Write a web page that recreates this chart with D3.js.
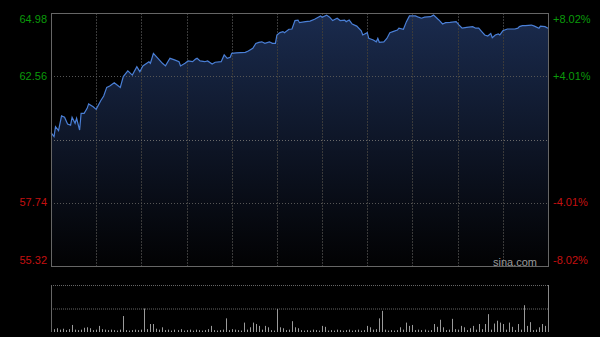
<!DOCTYPE html>
<html>
<head>
<meta charset="utf-8">
<script src="https://cdn.jsdelivr.net/npm/d3@7/dist/d3.min.js"></script>
<style>
  html, body { margin: 0; padding: 0; background: #000; }
  #chart { width: 600px; height: 337px; }
  text { font-family: Arial, "Liberation Sans", sans-serif; }
</style>
</head>
<body>
<div id="chart"></div>
<script>
// intraday price, minute offset from open -> price
const minutes = [0,2,3,5,7,9,11,13,14,16,17,19,20,22,24,25,28,30,33,35,37,39,42,46,48,51,54,57,59,61,
  65,66,68,71,74,76,79,82,85,86,89,91,94,96,97,99,102,104,107,109,113,115,117,119,120,123,129,131,134,136,
  138,140,142,145,147,149,150,152,154,155,158,160,162,164,165,169,172,175,179,180,183,185,187,190,192,195,196,198,200,203,
  206,207,210,211,214,216,217,218,221,223,225,227,230,231,234,236,238,242,244,246,248,252,254,257,258,260,262,265,269,271,
  273,276,280,282,284,286,288,290,292,293,295,297,298,300,303,308,310,311,313,315,319,321,324,325,328,330];
const prices = [60.41,60.26,60.64,60.49,61.05,61.00,60.74,60.70,61.00,60.77,60.96,60.51,61.15,61.15,61.34,61.51,61.40,61.30,61.63,61.81,62.14,62.19,62.32,62.14,62.55,62.77,62.61,62.93,62.74,62.96,
  63.12,63.06,63.44,63.25,63.06,62.96,63.25,63.19,63.12,62.96,63.06,63.15,63.12,63.22,63.25,63.15,63.12,63.15,63.03,63.10,63.12,63.38,63.25,63.29,63.44,63.46,63.48,63.53,63.63,63.82,
  63.86,63.88,63.82,63.88,63.82,63.82,64.14,64.23,64.27,64.23,64.36,64.37,64.69,64.71,64.61,64.65,64.67,64.74,64.87,64.82,64.90,64.82,64.69,64.78,64.69,64.71,64.65,64.71,64.56,64.48,
  64.30,64.14,64.23,64.01,63.95,63.88,64.01,63.86,63.88,64.01,64.23,64.27,64.33,64.40,64.36,64.65,64.87,64.87,64.82,64.78,64.82,64.84,64.90,64.74,64.69,64.56,64.61,64.62,64.65,64.52,
  64.40,64.43,64.46,64.40,64.40,64.27,64.14,64.10,64.20,64.04,64.14,64.18,64.14,64.30,64.37,64.37,64.40,64.46,64.50,64.50,64.52,64.48,64.40,64.48,64.46,64.40];
// volume, one bar every 2 minutes
const volumes = [15,6,8,5,7,4,6,15,5,4, 5,9,10,8,4,5,13,6,5,4, 5,4,3,5,34,4,3,4,5,4,
  5,50,6,17,17,7,5,10,4,5, 3,5,4,6,3,4,5,3,5,4, 3,4,6,13,4,3,4,5,29,4,
  6,5,4,3,20,5,10,20,17,13, 5,13,10,4,3,49,10,8,4,5, 23,10,8,4,3,4,3,5,4,3,
  13,11,3,4,3,5,4,3,4,5, 3,4,5,3,4,13,10,5,6,29, 45,5,3,4,3,4,10,5,20,13,
  15,4,5,4,5,3,4,17,11,26, 10,4,5,28,6,5,13,10,4,8, 13,5,17,6,17,38,5,18,24,20,
  17,5,20,11,4,17,5,57,13,21, 4,5,10,17,13,12];
const PREV_CLOSE = 60.15;
const priceTicks = [64.98, 62.56, 57.74, 55.32];
const pctTicks = ['+8.02%', '+4.01%', '-4.01%', '-8.02%'];
const SESSION_MIN = 330, GRID_STEP = 30;

const Chart = function(){
  const W = 600, H = 337,
        L = 51, R = 548,
        T = 13, B = 266,
        VT = 285, VB = 332;

  const draw = () => {
    const svg = d3.select('#chart')
      .append('svg')
      .attr('width', W)
      .attr('height', H);

    svg.append('rect').attr('width', W).attr('height', H).attr('fill', '#000');

    const x = d3.scaleLinear().domain([0, SESSION_MIN]).range([L, R]);
    const y = d3.scaleLinear().domain([55.32, 64.98]).range([B, T]);
    const yv = d3.scaleLinear().domain([0, 100]).range([VB, VT]);

    const grad = svg.append('defs').append('linearGradient')
      .attr('id', 'fillGrad')
      .attr('gradientUnits', 'userSpaceOnUse')
      .attr('x1', 0).attr('y1', T).attr('x2', 0).attr('y2', B);
    grad.append('stop').attr('offset', '0%').attr('stop-color', '#1a2b4e');
    grad.append('stop').attr('offset', '55%').attr('stop-color', '#0d1424');
    grad.append('stop').attr('offset', '100%').attr('stop-color', '#020203');

    const pts = minutes.map((m, i) => [m, prices[i]]);

    svg.append('path')
      .datum(pts)
      .attr('fill', 'url(#fillGrad)')
      .attr('d', d3.area().x(d => x(d[0])).y0(B).y1(d => y(d[1])));

    // vertical grid
    const vMins = d3.range(GRID_STEP, SESSION_MIN, GRID_STEP);
    svg.selectAll('.vgrid')
      .data(vMins)
      .enter()
      .append('line')
      .attr('x1', d => Math.round(x(d)) + 0.5)
      .attr('x2', d => Math.round(x(d)) + 0.5)
      .attr('y1', T).attr('y2', B)
      .attr('stroke', '#3a3a3a')
      .attr('stroke-dasharray', '2,1');

    // horizontal grid
    svg.selectAll('.hgrid')
      .data([62.56, PREV_CLOSE, 57.74])
      .enter()
      .append('line')
      .attr('x1', L).attr('x2', R)
      .attr('y1', d => Math.round(y(d)) + 0.5)
      .attr('y2', d => Math.round(y(d)) + 0.5)
      .attr('stroke', d => d === PREV_CLOSE ? '#6a6a6a' : '#555')
      .attr('stroke-dasharray', '1,2');

    svg.append('path')
      .datum(pts)
      .attr('fill', 'none')
      .attr('stroke', '#4a7fd6')
      .attr('stroke-width', 1.2)
      .attr('d', d3.line().x(d => x(d[0])).y(d => y(d[1])));

    // frame
    svg.append('rect')
      .attr('x', L + 0.5).attr('y', T + 0.5)
      .attr('width', R - L).attr('height', B - T)
      .attr('fill', 'none')
      .attr('stroke', '#666');

    // labels
    svg.selectAll('.lbl')
      .data(priceTicks)
      .enter()
      .append('text')
      .attr('x', 47)
      .attr('y', (d, i) => i === 0 ? 19 : (i === 3 ? 260 : y(d)))
      .attr('dy', '0.35em')
      .attr('text-anchor', 'end')
      .attr('font-size', 11)
      .attr('fill', d => d > PREV_CLOSE ? '#0a9a0a' : '#c41010')
      .text(d => d.toFixed(2));

    svg.selectAll('.pct')
      .data(pctTicks)
      .enter()
      .append('text')
      .attr('x', 553)
      .attr('y', (d, i) => i === 0 ? 19 : (i === 3 ? 260 : y(priceTicks[i])))
      .attr('dy', '0.35em')
      .attr('font-size', 11)
      .attr('fill', d => d[0] === '+' ? '#0a9a0a' : '#c41010')
      .text(d => d);

    svg.append('text')
      .attr('x', 537).attr('y', 262)
      .attr('dy', '0.35em')
      .attr('text-anchor', 'end')
      .attr('font-size', 11)
      .attr('fill', '#9a9a9a')
      .text('sina.com');

    // volume panel
    svg.selectAll('.vh')
      .data([100, 50])
      .enter()
      .append('line')
      .attr('x1', L).attr('x2', R)
      .attr('y1', d => yv(d) + 0.5).attr('y2', d => yv(d) + 0.5)
      .attr('stroke', '#666')
      .attr('stroke-dasharray', '1,1');

    svg.selectAll('.vb')
      .data(volumes)
      .enter()
      .append('rect')
      .attr('x', (d, i) => Math.round(x(i * 2)))
      .attr('y', d => yv(d))
      .attr('width', 1)
      .attr('height', d => VB - yv(d))
      .attr('fill', '#9a9a9a');

    svg.append('line')
      .attr('x1', L + 0.5).attr('x2', L + 0.5)
      .attr('y1', VT).attr('y2', VB)
      .attr('stroke', '#666');
    svg.append('line')
      .attr('x1', R + 0.5).attr('x2', R + 0.5)
      .attr('y1', VT).attr('y2', VB)
      .attr('stroke', '#888');
  };

  return { draw: draw };
}();
document.addEventListener('DOMContentLoaded', Chart.draw);
</script>
</body>
</html>
